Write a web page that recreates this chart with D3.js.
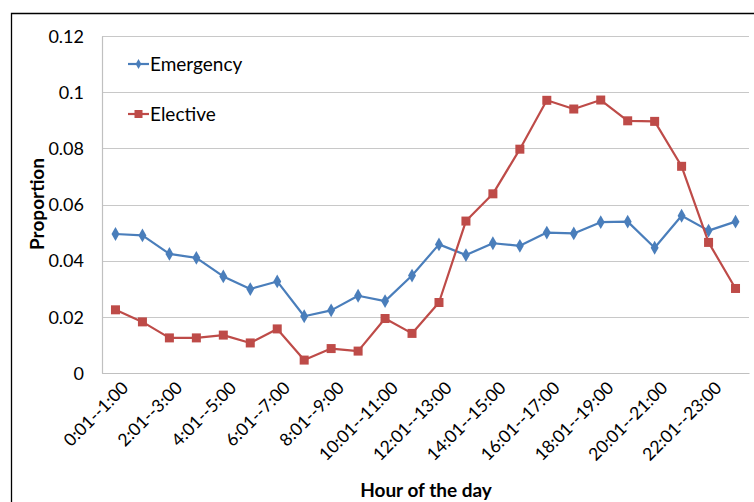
<!DOCTYPE html>
<html>
<head>
<meta charset="utf-8">
<script src="https://cdn.jsdelivr.net/npm/d3@7"></script>
<style>
  html, body { margin: 0; padding: 0; background: #fff; }
  svg { display: block; }
  text { font-family: Lato, "Open Sans", sans-serif; fill: #000; }
</style>
</head>
<body>
<svg id="chart" width="754" height="502"></svg>
<script>
// Hourly intervals (24 bins)
const hours = [
  "0:01--1:00", "1:01--2:00", "2:01--3:00", "3:01--4:00", "4:01--5:00", "5:01--6:00",
  "6:01--7:00", "7:01--8:00", "8:01--9:00", "9:01--10:00", "10:01--11:00", "11:01--12:00",
  "12:01--13:00", "13:01--14:00", "14:01--15:00", "15:01--16:00", "16:01--17:00", "17:01--18:00",
  "18:01--19:00", "19:01--20:00", "20:01--21:00", "21:01--22:00", "22:01--23:00", "23:01--24:00"
];
const emergency = [
  0.0495, 0.0490, 0.0424, 0.0410, 0.0344, 0.0299, 0.0326, 0.0202, 0.0223, 0.0275, 0.0256, 0.0347,
  0.0458, 0.0420, 0.0462, 0.0453, 0.0500, 0.0497, 0.0537, 0.0539, 0.0446, 0.0560, 0.0507, 0.0539
];
const elective = [
  0.0225, 0.0182, 0.0125, 0.0125, 0.0135, 0.0107, 0.0157, 0.0046, 0.0087, 0.0078, 0.0194, 0.0141,
  0.0251, 0.0541, 0.0638, 0.0797, 0.0971, 0.0940, 0.0972, 0.0898, 0.0896, 0.0736, 0.0465, 0.0301
];
const yTicks = [0, 0.02, 0.04, 0.06, 0.08, 0.1, 0.12];
const seriesNames = ["Emergency", "Elective"];
const seriesColors = ["#4a7ebb", "#be4b48"];

const svg = d3.select("#chart");
const margin = { left: 102, top: 36 };
const plotW = 749 - margin.left;
const plotH = 373 - margin.top;

// outer frame (top and left edges visible)
svg.append("path")
  .attr("d", "M11.5,502 L11.5,13.5 L754,13.5")
  .attr("fill", "none").attr("stroke", "#000").attr("stroke-width", 1.3);

const g = svg.append("g").attr("transform", `translate(${margin.left},${margin.top})`);

const x = d3.scaleBand().domain(hours).range([0, plotW]).padding(0);
const y = d3.scaleLinear().domain([0, 0.12]).range([plotH, 0]);
const cx = d => x(d) + x.bandwidth() / 2;

// horizontal gridlines
g.append("g").selectAll("line").data(yTicks).join("line")
  .attr("x1", 0).attr("x2", plotW)
  .attr("y1", d => Math.round(y(d)) + 0.5).attr("y2", d => Math.round(y(d)) + 0.5)
  .attr("stroke", "#c8c8c8").attr("stroke-width", 1.2);

// y axis
const yAxis = g.append("g")
  .call(d3.axisLeft(y).tickValues(yTicks).tickFormat(d => d === 0 ? "0" : String(+d.toFixed(2))).tickSize(0).tickPadding(18));
yAxis.select(".domain").attr("stroke", "#c0c0c0").attr("stroke-width", 1.2);
yAxis.selectAll("text").style("font-size", "18px").attr("dy", "0.35em");

// x axis
const xAxis = g.append("g").attr("transform", `translate(0,${plotH})`)
  .call(d3.axisBottom(x).tickValues(hours.filter((d, i) => i % 2 === 0)).tickSize(0).tickFormat(d => d));
xAxis.select(".domain").attr("stroke", "#c0c0c0").attr("stroke-width", 1.2);
xAxis.selectAll("text")
  .style("font-size", "17.5px")
  .attr("text-anchor", "end")
  .attr("dy", null).attr("y", 0)
  .attr("transform", "translate(14,16) rotate(-45)");

// axis titles
svg.append("text")
  .attr("x", 426).attr("y", 497)
  .attr("text-anchor", "middle")
  .style("font-size", "19px").style("font-weight", "bold")
  .text("Hour of the day");
svg.append("text")
  .attr("transform", "translate(44,204) rotate(-90)")
  .attr("text-anchor", "middle")
  .style("font-size", "19px").style("font-weight", "bold")
  .text("Proportion");

const line = d3.line().x((d, i) => cx(hours[i])).y(d => y(d));
const diamond = d3.symbol().type(d3.symbolDiamond).size(55);

// Emergency series
g.append("path").datum(emergency)
  .attr("d", line).attr("fill", "none")
  .attr("stroke", seriesColors[0]).attr("stroke-width", 2.2).attr("stroke-linejoin", "round");
g.append("g").selectAll("path").data(emergency).join("path")
  .attr("d", diamond)
  .attr("transform", (d, i) => `translate(${cx(hours[i])},${y(d)})`)
  .attr("fill", seriesColors[0]);

// Elective series
g.append("path").datum(elective)
  .attr("d", line).attr("fill", "none")
  .attr("stroke", seriesColors[1]).attr("stroke-width", 2.2).attr("stroke-linejoin", "round");
g.append("g").selectAll("rect").data(elective).join("rect")
  .attr("x", (d, i) => cx(hours[i]) - 4.5).attr("y", d => y(d) - 4.5)
  .attr("width", 9).attr("height", 9)
  .attr("fill", seriesColors[1]);

// legend
const legend = svg.append("g");
const legendY = [64, 114];
seriesNames.forEach((name, i) => {
  const ly = legendY[i];
  legend.append("line").attr("x1", 128).attr("x2", 149).attr("y1", ly).attr("y2", ly)
    .attr("stroke", seriesColors[i]).attr("stroke-width", 2.2);
  if (i === 0) {
    legend.append("path").attr("d", d3.symbol().type(d3.symbolDiamond).size(28))
      .attr("transform", `translate(138.5,${ly})`).attr("fill", seriesColors[i]);
  } else {
    legend.append("rect").attr("x", 134.5).attr("y", ly - 4).attr("width", 8).attr("height", 8)
      .attr("fill", seriesColors[i]);
  }
  legend.append("text").attr("x", 150).attr("y", ly).attr("dy", "0.35em")
    .style("font-size", "19px").text(name);
});
</script>
</body>
</html>
